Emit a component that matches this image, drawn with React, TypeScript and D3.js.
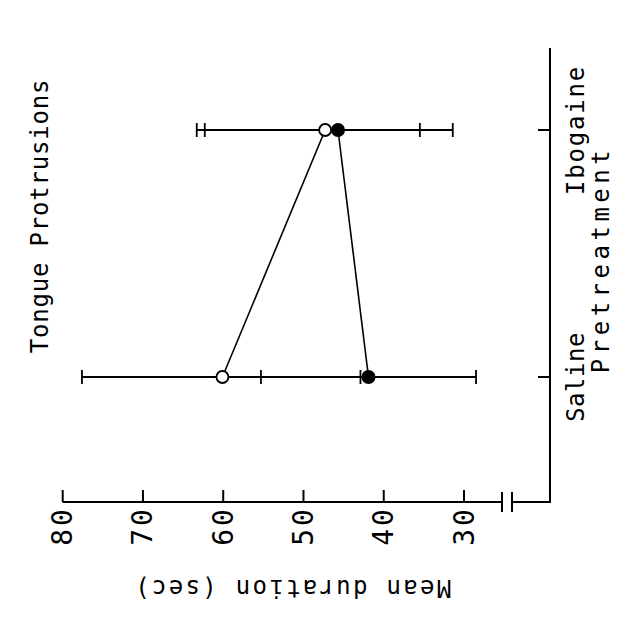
import React from "react";
import * as d3 from "d3";

const categories = ["Saline", "Ibogaine"];
const openMeans = [60.1, 47.3];
const openLow = [42.9, 31.4];
const openHigh = [77.6, 63.3];
const filledMeans = [41.9, 45.7];
const filledLow = [28.5, 35.5];
const filledHigh = [55.3, 62.3];
const valueTicks = [80, 70, 60, 50, 40, 30];

const W = 621;
const H = 625;
const FONT = "DejaVu Sans Mono";

export default function App() {
  // value axis runs horizontally (80 at left), categories vertically
  const x = d3.scaleLinear().domain([80, 30]).range([62.7, 464]);
  const y = d3.scalePoint<string>().domain(["Ibogaine", "Saline"]).range([130, 377]);

  const axisY = 502;
  const catX = 550;
  const breakA = 502;
  const breakB = 512;
  const capH = 7;

  const openPts = categories.map((c, i) => ({ c, m: openMeans[i], lo: openLow[i], hi: openHigh[i] }));
  const filledPts = categories.map((c, i) => ({ c, m: filledMeans[i], lo: filledLow[i], hi: filledHigh[i] }));

  const line = d3
    .line<{ c: string; m: number }>()
    .x((d) => x(d.m))
    .y((d) => y(d.c) as number);

  const txt = (ls: number, size = 24) => ({ fontFamily: FONT, fontSize: size, letterSpacing: ls });

  const errBar = (d: { c: string; lo: number; hi: number }, key: string) => {
    const cy = y(d.c) as number;
    return (
      <g key={key}>
        <line x1={x(d.hi)} x2={x(d.lo)} y1={cy} y2={cy} stroke="#000" strokeWidth={1.8} />
        <line x1={x(d.hi)} x2={x(d.hi)} y1={cy - capH} y2={cy + capH} stroke="#000" strokeWidth={1.8} />
        <line x1={x(d.lo)} x2={x(d.lo)} y1={cy - capH} y2={cy + capH} stroke="#000" strokeWidth={1.8} />
      </g>
    );
  };

  const catLs: Record<string, number> = { Saline: 0.5, Ibogaine: 1.8 };

  return (
    <svg width={W} height={H} style={{ position: "absolute", left: 0, top: 0, background: "#fff" }}>
      {/* value axis with break */}
      <path
        d={`M${x(80)},${axisY}H${breakA}M${breakB},${axisY}H${catX}V48`}
        fill="none"
        stroke="#000"
        strokeWidth={2}
      />
      <line x1={breakA} x2={breakA} y1={axisY - 10} y2={axisY + 10} stroke="#000" strokeWidth={2} />
      <line x1={breakB} x2={breakB} y1={axisY - 10} y2={axisY + 10} stroke="#000" strokeWidth={2} />
      {valueTicks.map((t) => (
        <g key={t}>
          <line x1={x(t)} x2={x(t)} y1={axisY} y2={axisY - 12} stroke="#000" strokeWidth={2} />
          <text
            transform={`translate(${x(t)},${526}) rotate(-90)`}
            textAnchor="middle"
            dominantBaseline="central"
            style={txt(3, 28)}
          >
            {t}
          </text>
        </g>
      ))}
      {/* category ticks */}
      {categories.map((c) => (
        <g key={c}>
          <line x1={catX} x2={catX - 12} y1={y(c)} y2={y(c)} stroke="#000" strokeWidth={2} />
          <text
            transform={`translate(576,${y(c)}) rotate(-90)`}
            textAnchor="middle"
            dominantBaseline="central"
            style={txt(catLs[c])}
          >
            {c}
          </text>
        </g>
      ))}
      <text
        transform={`translate(601,${((y("Saline") as number) + (y("Ibogaine") as number)) / 2 + 6}) rotate(-90)`}
        textAnchor="middle"
        dominantBaseline="central"
        style={txt(4.5)}
      >
        Pretreatment
      </text>
      <text transform="translate(292,588) rotate(180)" textAnchor="middle" dominantBaseline="central" style={txt(2.3)}>
        Mean duration (sec)
      </text>
      <text transform="translate(40,216) rotate(-90)" textAnchor="middle" dominantBaseline="central" style={txt(0.8)}>
        Tongue Protrusions
      </text>

      {/* error bars */}
      {openPts.map((d, i) => errBar(d, "o" + i))}
      {filledPts.map((d, i) => errBar(d, "f" + i))}

      {/* connecting lines */}
      <path d={line(openPts) ?? ""} fill="none" stroke="#000" strokeWidth={1.6} />
      <path d={line(filledPts) ?? ""} fill="none" stroke="#000" strokeWidth={1.6} />

      {/* markers */}
      {openPts.map((d, i) => (
        <circle key={"oc" + i} cx={x(d.m)} cy={y(d.c)} r={6} fill="#fff" stroke="#000" strokeWidth={1.8} />
      ))}
      {filledPts.map((d, i) => (
        <circle key={"fc" + i} cx={x(d.m)} cy={y(d.c)} r={7} fill="#000" />
      ))}
    </svg>
  );
}
